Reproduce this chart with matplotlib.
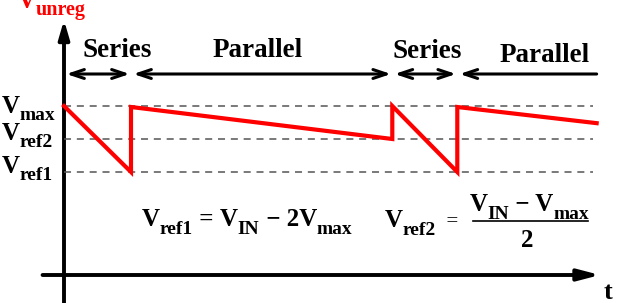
import matplotlib
matplotlib.use("Agg")
import matplotlib.pyplot as plt
from matplotlib.patches import FancyArrowPatch, ArrowStyle
from matplotlib.transforms import Affine2D
from matplotlib.lines import Line2D

# waveform of the unregulated voltage (time in phase units, voltage in level units)
t_wave = [0.0, 1.0, 1.0, 4.9, 4.9, 5.87, 5.87, 7.95]
v_wave = [3.0, 1.0, 2.97, 2.0, 3.0, 1.0, 2.97, 2.48]

# reference levels
level_subs = ["max", "ref2", "ref1"]
level_values = [3.0, 2.0, 1.0]

# switching phases
phase_names = ["Series", "Parallel", "Series", "Parallel"]
phase_bounds = [0.0, 1.0, 4.9, 5.87, 7.95]
phase_label_x = [117, 258, 427, 545]   # label centres (px)
phase_label_y = [57, 57, 58, 62]       # label baselines (px)

W, H = 618, 303
FONT = "Liberation Serif"

fig = plt.figure(figsize=(W / 100, H / 100), dpi=100)
ax = fig.add_axes([0, 0, 1, 1])
ax.set_xlim(-64 / 67, (W - 64) / 67)
ax.set_ylim(1 - (H - 172) / 33, 1 + 172 / 33)
ax.axis("off")

pix = Affine2D().scale(1, -1).translate(0, H)   # top-left pixel coordinates
renderer = fig.canvas.get_renderer()


def write(x, y, parts, color="black", ha="left"):
    # parts: (text, size, drop in px, weight)
    texts = []
    cx = x
    for s, size, dy, *w in parts:
        weight = w[0] if w else "bold"
        t = fig.text(cx, y + dy, s, transform=pix, fontsize=size, family=FONT,
                     fontweight=weight, color=color, va="baseline", ha="left")
        cx += t.get_window_extent(renderer).width
        texts.append(t)
    if ha == "center":
        shift = (cx - x) / 2
        for t in texts:
            px, py = t.get_position()
            t.set_position((px - shift, py))


# axes arrows
ax.add_patch(FancyArrowPatch((0, 1 - (H - 172) / 33), (0, 1 + (172 - 20) / 33),
                             arrowstyle=ArrowStyle("-|>", head_length=11, head_width=3.2),
                             mutation_scale=1, lw=2.8, color="black",
                             shrinkA=0, shrinkB=0))
ax.add_patch(FancyArrowPatch((-0.32, 1 - (275 - 172) / 33), (8.0, 1 - (275 - 172) / 33),
                             arrowstyle=ArrowStyle("-|>", head_length=13, head_width=3.4),
                             mutation_scale=1, lw=2.8, color="black",
                             shrinkA=0, shrinkB=0))

# dashed levels
for v in level_values:
    ax.plot([0, 7.9], [v, v], color="#555555", lw=1.1, ls=(0, (4.6, 3.8)))

# waveform
ax.plot(t_wave, v_wave, color="#ff0000", lw=3.0, solid_joinstyle="miter")

# phase arrows
arrow_v = 1 + (172 - 74) / 33
for i in range(len(phase_names)):
    a = phase_bounds[i] + 0.035
    b = phase_bounds[i + 1] - 0.02
    style = "<->" if i < len(phase_names) - 1 else "<-"
    if i == len(phase_names) - 1:
        b = phase_bounds[i + 1]
    ax.add_patch(FancyArrowPatch((a, arrow_v), (b, arrow_v),
                                 arrowstyle=ArrowStyle(style, head_length=9.5, head_width=3.2),
                                 mutation_scale=1, lw=2.2, color="black",
                                 shrinkA=0, shrinkB=0))
    fig.text(phase_label_x[i], phase_label_y[i], phase_names[i], transform=pix,
             fontsize=19.5, family=FONT, fontweight="bold", ha="center", va="baseline")

# level labels
for sub, v in zip(level_subs, level_values):
    base = {"max": 113, "ref2": 140, "ref1": 173}[sub]
    write(2, base, [("V", 18, 0), (sub, 14, 7)])

# axis titles
write(18, 8, [("V", 18, 0), ("unreg", 14.5, 7)], color="#ff0000")
fig.text(604, 299, "t", transform=pix, fontsize=19, family=FONT,
         fontweight="bold", va="baseline")

# formulas
write(142, 226, [("V", 18, 0), ("ref1", 14, 8), (" = ", 18, 0),
                 ("V", 18, 0), ("IN", 14, 8), (" \u2212 2V", 18, 0), ("max", 14, 8)])
write(385, 227, [("V", 18, 0), ("ref2", 14, 8), ("  =", 15, 0, "normal")])
write(529, 211, [("V", 18, 0), ("IN", 14, 8), (" \u2212 V", 18, 0), ("max", 14, 8)],
      ha="center")
fig.add_artist(Line2D([473, 588], [221, 221], transform=pix, color="black", lw=1.2))
fig.text(527, 247, "2", transform=pix, fontsize=18, family=FONT,
         fontweight="bold", ha="center", va="baseline")

fig.savefig("out.png", dpi=100)
